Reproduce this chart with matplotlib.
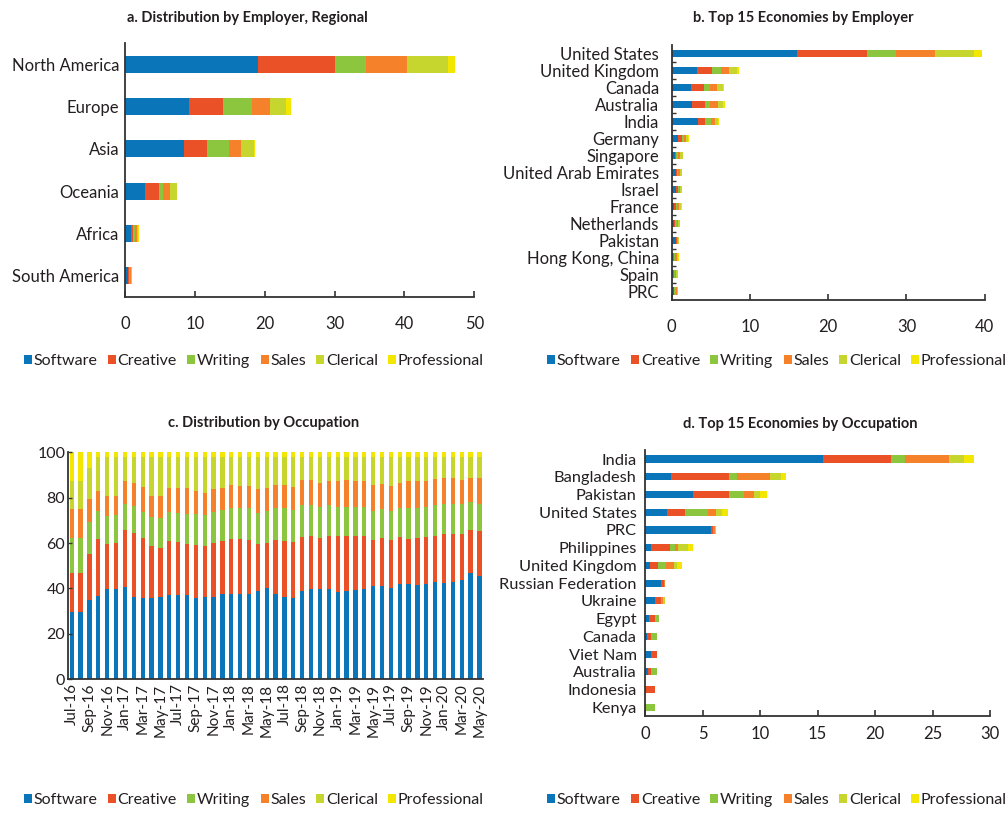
import numpy as np
import matplotlib
matplotlib.use("Agg")
import matplotlib.pyplot as plt
from matplotlib.patches import Patch

plt.rcParams['font.family'] = ['Lato', 'DejaVu Sans']
plt.rcParams['text.color'] = '#231f20'
plt.rcParams['axes.edgecolor'] = '#333333'
plt.rcParams['xtick.color'] = '#333333'
plt.rcParams['ytick.color'] = '#333333'
plt.rcParams['xtick.labelcolor'] = '#231f20'
plt.rcParams['ytick.labelcolor'] = '#231f20'

occupations = ["Software", "Creative", "Writing", "Sales", "Clerical", "Professional"]
colors = ["#0a75b8", "#eb5127", "#8cc63f", "#f5822a", "#c6d62f", "#f3e600"]

# a. regional distribution by employer (%)
regions = ["North America", "Europe", "Asia", "Oceania", "Africa", "South America"]
reg_software = [19.0, 9.2, 8.5, 2.9, 0.9, 0.5]
reg_creative = [11.0, 4.8, 3.2, 1.9, 0.3, 0.1]
reg_writing = [4.5, 4.2, 3.2, 0.6, 0.3, 0.1]
reg_sales = [5.9, 2.6, 1.7, 1.0, 0.15, 0.1]
reg_clerical = [5.8, 2.3, 1.8, 1.0, 0.25, 0.2]
reg_prof = [1.1, 0.6, 0.2, 0.1, 0.05, 0.0]

# b. top 15 economies by employer (%)
emp_countries = ["United States", "United Kingdom", "Canada", "Australia", "India",
                 "Germany", "Singapore", "United Arab Emirates", "Israel", "France",
                 "Netherlands", "Pakistan", "Hong Kong, China", "Spain", "PRC"]
emp_software = [16.0, 3.2, 2.5, 2.55, 3.3, 0.75, 0.4, 0.55, 0.55, 0.3, 0.3, 0.55, 0.2, 0.2, 0.25]
emp_creative = [9.0, 1.9, 1.6, 1.65, 0.9, 0.5, 0.2, 0.15, 0.2, 0.2, 0.15, 0.1, 0.1, 0.1, 0.1]
emp_writing = [3.7, 1.15, 0.8, 0.7, 0.8, 0.35, 0.25, 0.15, 0.15, 0.2, 0.2, 0.1, 0.15, 0.15, 0.2]
emp_sales = [4.9, 1.05, 0.9, 1.0, 0.5, 0.2, 0.25, 0.15, 0.15, 0.2, 0.15, 0.05, 0.2, 0.15, 0.1]
emp_clerical = [5.0, 1.0, 0.7, 0.7, 0.45, 0.3, 0.35, 0.25, 0.2, 0.3, 0.25, 0.1, 0.2, 0.2, 0.1]
emp_prof = [1.0, 0.25, 0.2, 0.15, 0.15, 0.05, 0.05, 0.05, 0.05, 0.05, 0.05, 0.0, 0.05, 0.0, 0.0]

# c. monthly distribution by occupation (%), Jul-16 .. May-20
occ_software = [29.5, 29.8, 34.9, 36.9, 39.8, 39.8, 40.5, 36.4, 36.0, 36.0, 36.1, 37.3, 37.0, 37.0,
                36.0, 36.1, 36.4, 37.4, 37.4, 37.6, 37.4, 39.1, 40.1, 37.4, 36.1, 35.8, 39.1, 39.6,
                39.6, 39.6, 38.6, 38.9, 39.2, 39.6, 41.0, 41.1, 40.4, 41.9, 42.0, 41.6, 41.9, 42.7,
                42.3, 42.7, 43.9, 46.8, 45.5]
occ_creative = [17.3, 17.0, 20.5, 24.8, 19.8, 20.3, 25.3, 28.1, 26.1, 22.6, 21.9, 23.6, 23.4, 22.6,
                23.0, 22.8, 23.8, 23.4, 24.3, 24.1, 24.1, 20.5, 20.1, 24.0, 24.8, 24.6, 23.7, 23.5,
                22.8, 23.4, 24.4, 24.1, 23.8, 23.4, 20.5, 21.0, 21.0, 20.8, 20.0, 20.5, 20.7, 20.6,
                21.6, 21.2, 20.0, 19.0, 19.8]
occ_writing = [15.6, 15.6, 13.9, 12.3, 12.4, 12.4, 11.4, 11.7, 11.8, 13.1, 12.9, 13.0, 13.0, 13.4,
               13.7, 13.5, 13.7, 13.8, 13.6, 13.6, 13.8, 13.8, 14.1, 13.9, 14.4, 14.2, 14.0, 13.7,
               13.5, 13.7, 13.1, 13.1, 13.1, 13.1, 12.8, 12.8, 12.8, 12.9, 13.3, 13.2, 13.3, 13.5,
               13.2, 13.2, 13.2, 12.2, 11.8]
occ_sales = [12.6, 12.6, 10.1, 9.0, 8.8, 8.3, 10.2, 10.1, 10.7, 9.2, 9.7, 10.4, 10.9, 11.3,
             10.3, 9.8, 9.8, 9.5, 10.3, 10.0, 10.0, 10.4, 10.1, 10.3, 10.3, 10.3, 10.9, 11.2,
             10.7, 10.7, 11.3, 11.6, 11.4, 11.3, 11.5, 11.1, 11.0, 11.0, 12.1, 12.1, 11.5, 11.3,
             11.6, 11.6, 10.9, 10.8, 11.7]
occ_clerical = [12.4, 12.4, 13.6, 14.8, 17.0, 17.0, 10.4, 11.5, 13.2, 16.9, 17.2, 13.5, 13.5, 13.5,
                14.8, 15.6, 14.1, 13.7, 12.2, 12.5, 12.5, 14.0, 13.4, 12.2, 12.2, 12.9, 10.1, 9.8,
                11.2, 10.4, 10.4, 10.1, 10.3, 10.4, 12.0, 11.8, 12.6, 11.2, 10.4, 10.4, 10.4, 9.7,
                9.1, 9.1, 9.8, 9.0, 9.0]
occ_prof = [12.6, 12.6, 7.0] + [2.2] * 44
month_labels = ["Jul-16", "Sep-16", "Nov-16", "Jan-17", "Mar-17", "May-17", "Jul-17", "Sep-17",
                "Nov-17", "Jan-18", "Mar-18", "May-18", "Jul-18", "Sep-18", "Nov-18", "Jan-19",
                "Mar-19", "May-19", "Jul-19", "Sep-19", "Nov-19", "Jan-20", "Mar-20", "May-20"]

# d. top 15 economies by occupation (%)
occ_countries = ["India", "Bangladesh", "Pakistan", "United States", "PRC", "Philippines",
                 "United Kingdom", "Russian Federation", "Ukraine", "Egypt", "Canada",
                 "Viet Nam", "Australia", "Indonesia", "Kenya"]
wrk_software = [15.5, 2.3, 4.2, 1.9, 5.7, 0.5, 0.45, 1.35, 0.85, 0.35, 0.2, 0.55, 0.3, 0.0, 0.0]
wrk_creative = [5.9, 5.0, 3.1, 1.6, 0.2, 1.7, 0.65, 0.3, 0.55, 0.55, 0.35, 0.45, 0.2, 0.85, 0.0]
wrk_writing = [1.2, 0.7, 1.3, 2.0, 0.05, 0.4, 0.7, 0.0, 0.05, 0.3, 0.45, 0.0, 0.5, 0.0, 0.9]
wrk_sales = [3.8, 2.9, 0.9, 0.7, 0.15, 0.3, 0.7, 0.05, 0.15, 0.0, 0.0, 0.0, 0.0, 0.0, 0.0]
wrk_clerical = [1.3, 0.9, 0.5, 0.5, 0.1, 0.8, 0.3, 0.0, 0.1, 0.0, 0.0, 0.0, 0.0, 0.0, 0.0]
wrk_prof = [0.9, 0.5, 0.6, 0.55, 0.0, 0.5, 0.4, 0.0, 0.0, 0.0, 0.0, 0.0, 0.0, 0.0, 0.0]

fig = plt.figure(figsize=(10.08, 8.13), dpi=100)


def hbars(ax, cats, series, height, xmax, step):
    y = np.arange(len(cats))
    left = np.zeros(len(cats))
    for vals, c in zip(series, colors):
        ax.barh(y, vals, left=left, height=height, color=c, linewidth=0)
        left += np.array(vals)
    ax.set_yticks(y)
    ax.set_yticklabels(cats)
    ax.set_ylim(len(cats) - 0.5, -0.5)
    ax.set_xlim(0, xmax)
    ax.set_xticks(np.arange(0, xmax + 1, step))
    for s in ["top", "right"]:
        ax.spines[s].set_visible(False)
    for s in ["left", "bottom"]:
        ax.spines[s].set_linewidth(1.3)
    ax.tick_params(axis="y", length=0, labelsize=11.5)
    ax.tick_params(axis="x", direction="in", length=4, width=1.2, labelsize=12)


ax_a = fig.add_axes([0.124, 0.6347, 0.3466, 0.3124])
hbars(ax_a, regions, [reg_software, reg_creative, reg_writing, reg_sales, reg_clerical, reg_prof],
      0.4, 50, 10)
ax_a.tick_params(axis="y", pad=4, labelsize=12)
ax_a.tick_params(axis="x", pad=14)
ax_a.set_title("a. Distribution by Employer, Regional", fontsize=10.5, fontweight="bold", pad=15,
               x=0.35)

ax_b = fig.add_axes([0.6664, 0.6316, 0.3105, 0.3133])
hbars(ax_b, emp_countries, [emp_software, emp_creative, emp_writing, emp_sales, emp_clerical, emp_prof],
      0.42, 40, 10)
ax_b.set_yticks(np.arange(len(emp_countries) - 1) + 0.5, minor=True)
ax_b.tick_params(axis="y", which="minor", direction="in", length=3, width=1)
ax_b.tick_params(axis="y", pad=9, labelsize=12)
ax_b.tick_params(axis="x", pad=14)
ax_b.set_title("b. Top 15 Economies by Employer", fontsize=10.5, fontweight="bold", pad=16.5,
               x=0.42)

ax_c = fig.add_axes([0.0675, 0.1645, 0.4117, 0.2792])
x = np.arange(len(occ_software))
bottom = np.zeros(len(x))
for vals, c in zip([occ_software, occ_creative, occ_writing, occ_sales, occ_clerical, occ_prof], colors):
    ax_c.bar(x, vals, bottom=bottom, width=0.48, color=c, linewidth=0)
    bottom += np.array(vals)
ax_c.set_xlim(-0.42, len(x) - 0.6)
ax_c.set_ylim(0, 100)
ax_c.set_yticks(np.arange(0, 101, 20))
ax_c.set_xticks(x[::2])
ax_c.set_xticklabels(month_labels, rotation=90)
for s in ["top", "right"]:
    ax_c.spines[s].set_visible(False)
for s in ["left", "bottom"]:
    ax_c.spines[s].set_linewidth(1.3)
ax_c.tick_params(axis="y", direction="in", length=3, width=1, pad=2, labelsize=11.5)
ax_c.tick_params(axis="x", length=0, pad=3, labelsize=11)
ax_c.set_title("c. Distribution by Occupation", fontsize=10.5, fontweight="bold", pad=18.5, x=0.47)

ax_d = fig.add_axes([0.6399, 0.119, 0.3423, 0.3273])
hbars(ax_d, occ_countries, [wrk_software, wrk_creative, wrk_writing, wrk_sales, wrk_clerical, wrk_prof],
      0.4, 30, 5)
ax_d.tick_params(axis="y", pad=6, labelsize=11.8)
ax_d.tick_params(axis="x", pad=7)
ax_d.set_title("d. Top 15 Economies by Occupation", fontsize=10.5, fontweight="bold", pad=16,
               x=0.45)

handles = [Patch(facecolor=c, edgecolor="none") for c in colors]
for cx, cy in [(0.252, 0.556), (0.771, 0.556), (0.252, 0.016), (0.771, 0.016)]:
    fig.legend(handles, occupations, loc="center", bbox_to_anchor=(cx, cy), ncol=6, frameon=False,
               fontsize=11.5, handlelength=0.5, handleheight=0.5, handletextpad=0.1,
               columnspacing=0.65, borderaxespad=0, borderpad=0)

fig.savefig("out.png", dpi=100)
